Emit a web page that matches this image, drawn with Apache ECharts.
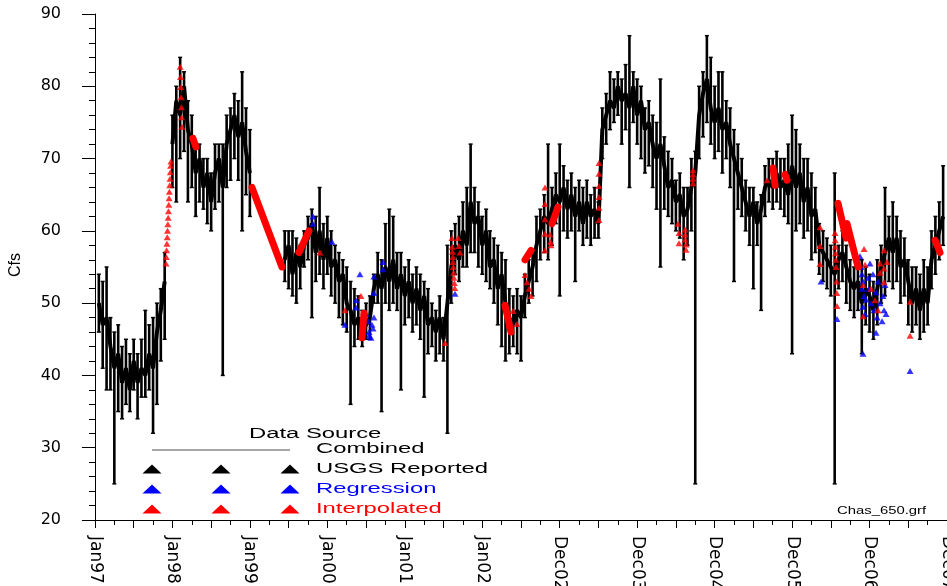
<!DOCTYPE html>
<html>
<head>
<meta charset="utf-8">
<script src="https://cdn.jsdelivr.net/npm/echarts@6/dist/echarts.min.js"></script>
<style>html,body{margin:0;padding:0;background:#fff}#c{width:947px;height:586px}</style>
</head>
<body>
<div id="c"></div>
<script>
// x values are years since the Jan97 tick; samples every 0.05 yr
const xTickLabels = ["Jan97","Jan98","Jan99","Jan00","Jan01","Jan02","Dec02","Dec03","Dec04","Dec05","Dec06","Dec07"];
const yMin = 20, yMax = 90, yStep = 10;
const sampleStart = 0.05, sampleStep = 0.05;

// Combined (USGS reported) flow band, center / low / high (cfs)
const flowV = [50,47,48,44,41,43,39,41,38,42, 39,41,40,43,41,46,49,53,null,72,
 78,76,80,74,72,68,70,66,68,64, 68,70,66,72,74,76,73,75,71,68,
 null,null,null,null,null,null,null,null,56,58,
 54,57,55,58,59,61,57,60,56,59, 55,56,53,54,50,49,47,48,46,47,
 48,52,54,52,55,53,56,52,54,51, 53,50,52,49,51,47,48,46,48,45,
 50,55,58,56,60,58,64,61,62,58, 60,55,56,52,54,50,48,47,49,48,
 51,53,55,58,60,62,61,63,65,64, 66,63,65,62,64,61,64,62,63,61,
 74,76,78,77,80,78,79,77,80,76, 78,74,75,72,70,72,69,66,67,64,
 65,62,63,66,68,76,79,81,77,75, 77,74,75,72,70,68,66,64,62,64,
 61,63,66,67,66,68,66,67,65,69, 66,68,64,66,62,63,58,57,56,55,
 54,56,57,55,53,52,53,50,52,51, 49,52,55,57,59,57,59,55,56,53,
 50,52,49,52,50,56,58,60,62];
const flowLo = [46,41,38,38,25,35,34,36,35,38, 34,37,37,38,32,36,42,45,null,66,
 64,70,71,64,66,62,64,63,61,60, 63,64,40,66,67,70,67,60,65,62,
 null,null,null,null,null,null,null,null,53,52,
 51,50,52,55,56,48,53,54,52,54, 51,50,48,47,46,36,44,45,44,45,
 45,50,50,35,50,49,50,49,38,47, 48,46,47,45,37,43,44,42,43,42,
 32,50,54,53,55,55,57,57,55,54, 53,52,50,47,44,42,43,44,43,42,
 48,50,51,53,56,57,56,58,61,51, 60,59,60,53,60,58,59,58,59,59,
 70,72,74,75,76,72,74,66,75,72, 70,68,69,66,63,55,63,62,61,60,
 59,56,58,60,25,70,73,75,72,70, 71,68,70,66,53,63,62,60,58,52,
 58,49,62,64,63,64,63,62,61,43, 60,61,59,60,56,57,54,53,52,51,
 25,52,53,50,49,48,49,43,47,46, 45,47,50,51,53,52,53,50,51,47,
 46,47,45,46,47,52,54,56,58];
const flowHi = [54,53,55,48,46,47,44,45,43,45, 43,45,49,47,48,50,52,57,null,76,
 80,84,82,78,76,72,72,70,70,68, 72,72,72,76,77,79,78,82,77,74,
 null,null,null,null,null,null,null,null,60,60,
 60,59,58,60,62,63,62,66,61,62, 60,58,57,56,55,53,52,51,49,50,
 51,54,57,56,61,63,62,57,57,55, 56,54,55,54,53,52,50,49,51,48,
 58,60,61,62,64,66,72,66,64,62, 63,60,59,58,57,56,52,51,52,51,
 54,56,57,62,63,65,72,66,68,72, 69,67,68,66,67,66,67,65,66,64,
 77,79,82,81,82,81,83,87,82,81, 80,77,78,76,75,81,73,71,70,67,
 68,66,66,70,71,80,82,87,84,80, 82,82,78,77,74,72,70,67,66,66,
 64,65,69,70,70,71,70,70,72,76, 74,72,70,70,68,66,61,60,59,58,
 68,58,60,58,56,55,56,56,55,54, 53,56,58,66,62,64,62,60,59,56,
 55,55,54,56,55,60,62,64,69];

// Interpolated: long runs drawn as thick strokes (null separates runs)
const interpRunT = [2.027,2.414,null, 2.634,2.763,null, 3.447,3.473,null, 5.294,5.371,null,
 9.593,9.697,null, 9.709,9.851,null, 1.265,1.304,null, 8.754,8.780,null, 8.909,8.935,null,
 5.901,5.978,null, 10.846,10.910,null, 5.552,5.630];
const interpRunV = [66,55,null, 57,60,null, 45.2,48.6,null, 49.7,46,null,
 63.8,59,null, 61,55,null, 72.8,71.6,null, 68.7,66.3,null, 67.8,67,null,
 61,63.3,null, 58.7,57,null, 56,57.3];

// Interpolated: individual points
const interpT = [0.917,0.921,0.925,0.929,0.933,0.937,0.941,0.945,0.949,0.953,0.957,0.961,0.965,0.969,0.973,0.977,0.981,
 1.100,1.104,1.108,1.112,1.116,1.119,1.123,
 2.905,3.228,3.434,4.519,
 4.609,4.612,4.615,4.620,4.622,4.627,4.630,4.635,4.640,4.645,
 4.687,4.700,4.713, 5.397,5.449, 5.552,5.578,5.604,5.630,
 5.810,5.810,5.810,5.810,5.810, 5.875,5.882,5.888,
 6.507,6.507,6.507,6.507,6.507,6.507,
 7.527,7.540,7.540,7.618,7.618,7.618,7.631,7.631,
 7.721,7.721,7.721,7.721, 8.677, 9.361,9.361,9.361,
 9.555,9.557,9.560,9.562,9.565,9.568,9.573,9.577,9.580,
 9.929,9.942,9.916,9.916,10.019,10.071,10.110,10.136,10.136,10.187,10.187,10.187,10.226,
 10.523,10.523];
const interpV = [55.5,56.4,57.3,58.2,59.1,60.0,60.9,61.8,62.7,63.6,64.5,65.4,66.3,67.2,68.1,69.0,69.6,
 82.7,81.3,79.9,78.5,77.1,75.7,74.4,
 57,49,51,44.5,
 59,57.8,57.1,56.4,55.7,55,54.2,53.5,52.8,52.1,
 59,57.9,57, 48.9,47.1, 53.9,52.9,52,51,
 66,63.7,61.6,59.6,57.3, 59.5,58.5,58,
 69.4,67.9,66.2,64.7,63.2,61.5,
 61,59.7,58.3,60.2,59.5,58.8,58.1,57.4,
 68.4,67.8,67.2,66.6, 67, 60.5,57.9,55.4,
 59.7,58.7,57.8,56.9,56,55,53,51.4,49.6,
 57.5,55.3,52.5,48.2,52,50.4,49,55.5,54.2,57.3,54.8,52.9,55.7,
 50.2,45.5];

// Regression points
const regrT = [2.815,2.815,3.060,3.228,3.421,3.370,3.370,
 3.499,3.525,3.538,3.564,3.576,3.602,3.540,3.590,
 3.602,3.602,3.719,3.719, 4.648, 9.374,9.580,
 9.877,9.890,9.903,9.916,9.903,9.929,9.916,9.942,9.955,9.981,9.994,10.006,10.019,10.045,10.058,10.084,10.097,10.110,10.136,10.162,10.174,10.187,10.200,10.213,
 9.916,10.084, 10.523];
const regrV = [62,61,58.5,47,54,50.4,49.4,
 48.5,47.5,46,45.2,47,48,45.5,46.5,
 53.7,51.4,55.7,54.7, 51.3, 53,47.8,
 56.5,55,54,53,52,51,49.5,48.5,50.5,53.5,52,55.5,50,54,49,51.5,48,53,50,47.5,51,49,52.5,48.5,
 43,45.9, 40.6];

const legendLabels = ["USGS Reported","Regression","Interpolated"];
const legendColors = ["#000000","#0000ff","#ff0000"];

// ---- build ----
const lineData = [], barData = [];
flowV.forEach((v,i)=>{
  const t = sampleStart + i*sampleStep;
  lineData.push([t, v===null ? '-' : v]);
  if (v!==null) barData.push([t, flowLo[i], flowHi[i]]);
});
const runData = interpRunT.map((t,i)=> t===null ? ['-','-'] : [t, interpRunV[i]]);
const interpData = interpT.map((t,i)=>[t, interpV[i]]);
const regrData = regrT.map((t,i)=>[t, regrV[i]]);

const halfYears = [], quarters = [];
for (let k=0;k<=22;k++) halfYears.push(k*0.5);
for (let k=0;k<22;k++) quarters.push(k*0.5+0.25);
const labelVals = xTickLabels.map((s,i)=>i);

const chart = echarts.init(document.getElementById('c'), null, {renderer:'canvas'});
const FONT = 'Liberation Sans, Arial, sans-serif';

function tri(cx, cy, color){
  return {type:'polygon', shape:{points:[[cx-9.5,cy+4.5],[cx+9.5,cy+4.5],[cx,cy-4.5]]}, style:{fill:color}, z:10};
}
const graphics = [
  {type:'text', x:249, y:434, scaleX:1.7, style:{text:'Data Source', font:'14px '+FONT, fill:'#000', verticalAlign:'middle', textAlign:'left'}, z:10},
  {type:'line', shape:{x1:152,y1:450,x2:290,y2:450}, style:{stroke:'#888', lineWidth:1.5}, z:10},
  {type:'text', x:316, y:449, scaleX:1.7, style:{text:'Combined', font:'14px '+FONT, fill:'#000', verticalAlign:'middle', textAlign:'left'}, z:10},
  {type:'text', x:16, y:265, rotation:Math.PI/2, style:{text:'Cfs', font:'16px '+FONT, fill:'#000', verticalAlign:'middle', textAlign:'center'}, z:10},
  {type:'text', x:837, y:511, scaleX:1.35, style:{text:'Chas_650.grf', font:'11px '+FONT, fill:'#000', verticalAlign:'middle', textAlign:'left'}, z:10}
];
legendLabels.forEach((lab,r)=>{
  const cy = 469 + r*20;
  [152,221,290].forEach(cx=>graphics.push(tri(cx, cy, legendColors[r])));
  graphics.push({type:'text', x:316, y:cy, scaleX:1.7, style:{text:lab, font:'14px '+FONT, fill:legendColors[r], verticalAlign:'middle', textAlign:'left'}, z:10});
});

chart.setOption({
  animation:false,
  backgroundColor:'#fff',
  grid:{left:89, right:0, top:14, bottom:66, containLabel:false, outerBoundsMode:'none'},
  xAxis:[{
    type:'value', min:-0.077, max:11.0, position:'bottom',
    axisLine:{show:true, onZero:false, lineStyle:{color:'#000', width:1}},
    axisTick:{show:true, customValues:halfYears, length:8, lineStyle:{color:'#000'}},
    axisLabel:{show:true, customValues:labelVals, rotate:-90, margin:16, color:'#000',
      fontFamily:'DejaVu Sans', fontSize:17, formatter:(v)=>xTickLabels[Math.round(v)]},
    splitLine:{show:false}
  },{
    type:'value', min:-0.077, max:11.0, position:'bottom',
    axisLine:{show:false, onZero:false},
    axisTick:{show:true, customValues:quarters, length:5, lineStyle:{color:'#000'}},
    axisLabel:{show:false}, splitLine:{show:false}
  }],
  yAxis:{
    type:'value', min:yMin, max:yMax, interval:yStep,
    axisLine:{show:true, lineStyle:{color:'#000', width:1}},
    axisTick:{show:true, length:13, lineStyle:{color:'#000'}},
    minorTick:{show:true, splitNumber:5, length:6, lineStyle:{color:'#000'}},
    axisLabel:{color:'#000', fontFamily:'DejaVu Sans', fontSize:16, margin:28},
    splitLine:{show:false}, minorSplitLine:{show:false}
  },
  graphic:graphics,
  series:[
    {type:'custom', name:'Combined range', data:barData, encode:{x:0, y:[1,2]}, z:2, clip:true,
      renderItem:(params, api)=>{
        const t = api.value(0);
        const a = api.coord([t, api.value(1)]), b = api.coord([t, api.value(2)]);
        const st = {stroke:'#000', lineWidth:2.6};
        return {type:'group', children:[
          {type:'line', shape:{x1:a[0],y1:a[1],x2:b[0],y2:b[1]}, style:st},
          {type:'line', shape:{x1:a[0]-2,y1:a[1],x2:a[0]+2,y2:a[1]}, style:{stroke:'#000', lineWidth:1.5}},
          {type:'line', shape:{x1:b[0]-2,y1:b[1],x2:b[0]+2,y2:b[1]}, style:{stroke:'#000', lineWidth:1.5}}
        ]};
      }},
    {type:'line', name:'USGS Reported', data:lineData, symbol:'none', connectNulls:false, z:3,
      lineStyle:{color:'#000', width:4}},
    {type:'scatter', name:'Regression', data:regrData, symbol:'triangle', symbolSize:[7,6], z:4,
      itemStyle:{color:'#0000ff'}},
    {type:'line', name:'Interpolated run', data:runData, symbol:'none', connectNulls:false, z:5,
      lineStyle:{color:'#ff0000', width:7, cap:'round'}},
    {type:'scatter', name:'Interpolated', data:interpData, symbol:'triangle', symbolSize:[7,6], z:5,
      itemStyle:{color:'#ff0000'}}
  ]
});
</script>
</body>
</html>
